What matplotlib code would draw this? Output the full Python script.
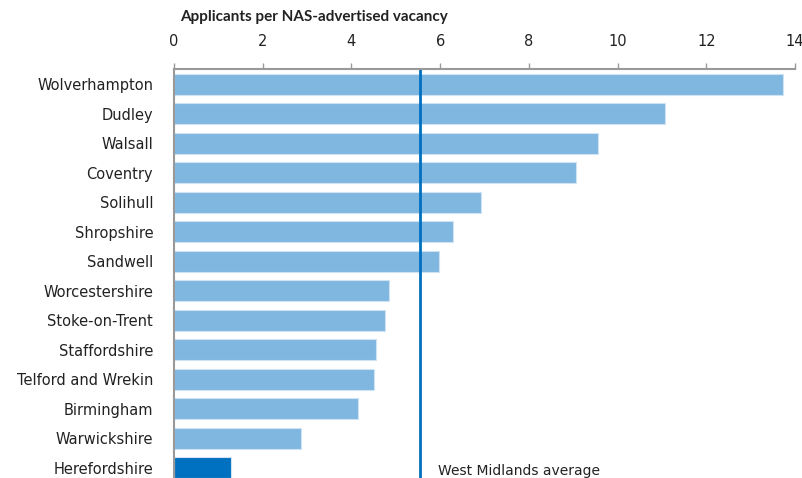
import matplotlib.pyplot as plt
import numpy as np

areas = ['Wolverhampton', 'Dudley', 'Walsall', 'Coventry', 'Solihull', 'Shropshire',
         'Sandwell', 'Worcestershire', 'Stoke-on-Trent', 'Staffordshire',
         'Telford and Wrekin', 'Birmingham', 'Warwickshire', 'Herefordshire']
applicants = [13.73, 11.07, 9.56, 9.06, 6.92, 6.29, 5.97, 4.85, 4.76, 4.55, 4.51, 4.15, 2.86, 1.28]
wm_average = 5.55

light = '#7fb7e0'
dark = '#0070c0'
colors = [dark if a == 'Herefordshire' else light for a in areas]

plt.rcParams['font.family'] = 'DejaVu Sans'

fig = plt.figure(figsize=(8.02, 4.78), dpi=100)
ax = fig.add_axes([174/802, 0, 621/802, 409/478])

y = np.arange(len(areas))
ax.barh(y, applicants, height=0.71, color=colors, edgecolor='#cfe3f3', linewidth=0.8)
ax.axvline(wm_average, color=dark, linewidth=2)
ax.text(wm_average + 0.4, 13.1, 'West Midlands average', fontsize=10, color='#222222', va='center')

ax.set_xlim(0, 14)
ax.set_ylim(13.34, -0.51)
ax.set_yticks(y)
ax.set_yticklabels(areas, fontsize=10.5, color='#222222')
ax.set_xticks(range(0, 15, 2))
ax.xaxis.tick_top()
ax.tick_params(axis='x', direction='out', length=4, width=1, color='#999999',
               labelsize=10.5, labelcolor='#222222', pad=10.5)
ax.tick_params(axis='y', length=0, pad=15)

for s in ['right', 'bottom']:
    ax.spines[s].set_visible(False)
for s in ['top', 'left']:
    ax.spines[s].set_color('#999999')
    ax.spines[s].set_linewidth(1.5)

fig.text(180/802, 1 - 17/478, 'Applicants per NAS-advertised vacancy', fontsize=11,
         family='Lato', fontweight='bold', color='#222222', va='center', ha='left')

plt.savefig('out.png', dpi=100)
